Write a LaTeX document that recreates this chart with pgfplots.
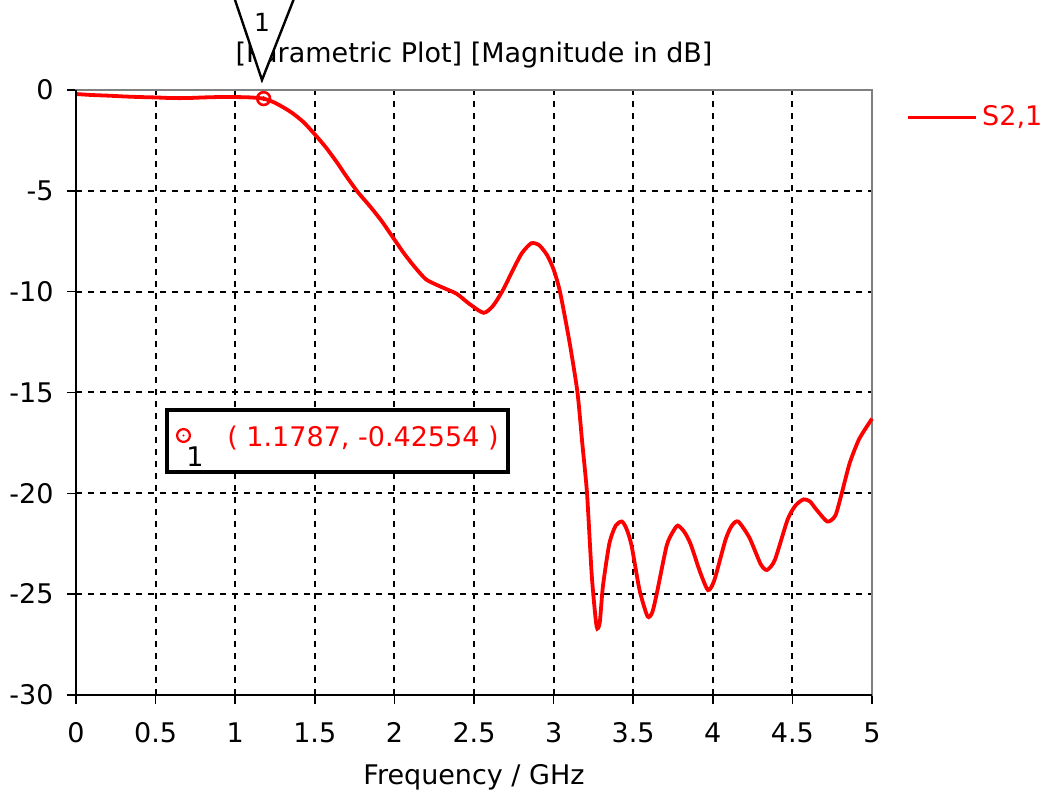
\documentclass[border=0pt]{standalone}
\usepackage{fontspec}
\setmainfont{DejaVu Sans}
\usepackage{pgfplots}
\pgfplotsset{compat=1.18}
\begin{document}
\fontsize{13.5}{16}\selectfont
\begin{tikzpicture}
\begin{axis}[
  at={(0pt,0pt)}, anchor=south west,
  scale only axis, width=398pt, height=302.5pt,
  xmin=0, xmax=5, ymin=-30, ymax=0,
  xtick={0,0.5,1,1.5,2,2.5,3,3.5,4,4.5,5},
  xticklabels={0,0.5,1,1.5,2,2.5,3,3.5,4,4.5,5},
  ytick={-30,-25,-20,-15,-10,-5,0},
  yticklabels={-30,-25,-20,-15,-10,-5,0},
  xtick pos=bottom, ytick pos=left,
  tick align=outside, major tick length=4.5pt,
  tick style={black, line width=0.8pt},
  xticklabel style={yshift=-4.5pt},
  yticklabel style={xshift=-2pt},
  grid=major,
  major grid style={black, line width=1pt, dash pattern=on 3pt off 3pt},
  axis line style={gray, line width=1pt},
  xlabel={Frequency / GHz},
  xlabel style={yshift=-1.5pt},
  title={[Parametric Plot] [Magnitude in dB]},
  title style={yshift=0pt},
  clip=false,
  legend style={at={(1,1)}, anchor=north west, draw=none, fill=none,
    xshift=14pt, yshift=-3.5pt, text=red, legend cell align=left},
  legend image code/.code={\draw[#1] (0pt,0pt) -- (34pt,0pt);},
]
\addplot[red, line width=1.9pt, smooth, tension=0.4] coordinates {
(0,-0.2) (0.1,-0.25) (0.2,-0.28) (0.3,-0.32) (0.4,-0.35) (0.5,-0.37)
(0.6,-0.4) (0.7,-0.4) (0.8,-0.37) (0.9,-0.35) (1.0,-0.35) (1.1,-0.37)
(1.1787,-0.43) (1.24,-0.6) (1.3,-0.85) (1.36,-1.15) (1.43,-1.6) (1.5,-2.2)
(1.57,-2.85) (1.64,-3.6) (1.7,-4.3) (1.77,-5.06) (1.85,-5.8) (1.92,-6.5)
(1.99,-7.3) (2.06,-8.1) (2.13,-8.8) (2.2,-9.4) (2.29,-9.75) (2.39,-10.1)
(2.47,-10.6) (2.56,-11.05) (2.62,-10.7) (2.68,-9.95) (2.74,-9.0) (2.8,-8.1)
(2.86,-7.6) (2.91,-7.7) (2.96,-8.2) (3.0,-8.9) (3.04,-10.0) (3.10,-12.5)
(3.15,-15.0) (3.18,-17.5) (3.21,-20) (3.24,-24.1) (3.27,-26.6) (3.29,-26.4)
(3.31,-24.6) (3.35,-22.5) (3.39,-21.6) (3.43,-21.4) (3.46,-21.8) (3.49,-22.6)
(3.54,-24.8) (3.59,-26.1) (3.62,-25.9) (3.65,-24.9) (3.71,-22.6) (3.75,-21.9)
(3.78,-21.6) (3.82,-21.9) (3.86,-22.5) (3.92,-23.9) (3.97,-24.8) (4.01,-24.3)
(4.08,-22.3) (4.12,-21.6) (4.16,-21.4) (4.23,-22.2) (4.30,-23.5) (4.34,-23.8)
(4.39,-23.3) (4.47,-21.3) (4.52,-20.6) (4.57,-20.3) (4.61,-20.4) (4.65,-20.8)
(4.72,-21.4) (4.77,-21.1) (4.81,-20.0) (4.86,-18.5) (4.92,-17.3) (5.0,-16.3)
};
\addlegendentry{S2,1}
\addplot[red, line width=1pt, only marks, mark=*, mark size=0.6pt,
  forget plot] coordinates {(1.1787,-0.42554)};
\addplot[red, line width=1.3pt, only marks, mark=o, mark size=3.2pt,
  forget plot] coordinates {(1.1787,-0.42554)};
\end{axis}
% axis lines left and bottom in black
\draw[black, line width=1pt] (0pt,302.5pt) -- (0pt,0pt) -- (398pt,0pt);
% marker V symbol
\draw[black, line width=1.2pt, fill=white] (78pt,352pt) -- (93pt,307.5pt) -- (110.5pt,352pt);
\node[font=\fontsize{12.5}{14}\selectfont, inner sep=0pt] at (93pt,336.5pt) {1};
% annotation box
\draw[black, line width=1.7pt, fill=white] (45.5pt,111.5pt) rectangle (216pt,142.5pt);
\draw[red, line width=1.1pt] (53.75pt,129.75pt) circle (3.2pt);
\fill[red] (53.75pt,129.75pt) circle (0.6pt);
\node[inner sep=0pt] at (59.5pt,119pt) {1};
\node[text=red, anchor=west, inner sep=0pt] at (75.5pt,128.5pt) {( 1.1787, -0.42554 )};
\pgfresetboundingbox
\path (-38pt,-50.5pt) rectangle (487.5pt,347.5pt);
\end{tikzpicture}
\end{document}
